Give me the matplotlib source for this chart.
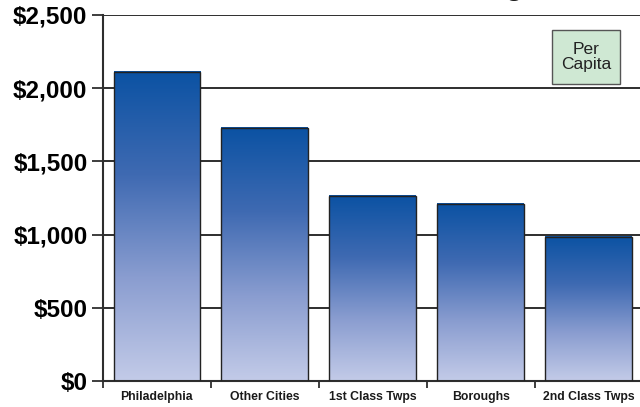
import matplotlib.pyplot as plt
import numpy as np
from matplotlib.colors import LinearSegmentedColormap
from matplotlib.patches import Rectangle

categories = ["Philadelphia", "Other Cities", "1st Class Twps", "Boroughs", "2nd Class Twps"]
per_capita = [2111, 1726, 1265, 1212, 987]
y_ticks = [0, 500, 1000, 1500, 2000, 2500]
y_tick_labels = ["$0", "$500", "$1,000", "$1,500", "$2,000", "$2,500"]

plt.rcParams['font.family'] = ['Liberation Sans', 'DejaVu Sans']

fig = plt.figure(figsize=(6.4, 4.07), dpi=100)
ax = fig.add_axes([0.1605, 0.0627, 0.8435, 0.9012])

# blue fade, dark at the top of each bar
fade = LinearSegmentedColormap.from_list("fade", ["#c3cbe8", "#8a9dd0", "#3f6ab2", "#0b52a3"])
grad = np.linspace(0, 1, 256).reshape(-1, 1)

bar_w = 0.8
bars = ax.bar(range(len(categories)), per_capita, width=bar_w, color="none",
              edgecolor="#222222", linewidth=1.0, zorder=3)
for b, v in zip(bars, per_capita):
    x0 = b.get_x()
    ax.imshow(grad, cmap=fade, origin="lower", aspect="auto",
              extent=(x0, x0 + bar_w, 0, v), zorder=2)

ax.set_xlim(-0.5, len(categories) - 0.5)
ax.set_ylim(0, 2500)

ax.set_yticks(y_ticks)
ax.set_yticklabels(y_tick_labels, fontsize=17.5, fontweight="bold")
ax.yaxis.grid(True, color="#2e2e2e", linewidth=1.4, zorder=1)
ax.set_axisbelow(True)
ax.tick_params(axis="y", length=8, width=1.3, color="#2e2e2e", pad=3)

# category ticks sit between bars, labels centred under bars
ax.set_xticks(np.arange(len(categories) + 1) - 0.5)
ax.set_xticklabels([])
ax.set_xticks(range(len(categories)), minor=True)
ax.set_xticklabels(categories, minor=True, fontsize=8.8, fontweight="bold", color="#1a1a1a")
ax.tick_params(axis="x", which="major", length=5, width=1.3, color="#2e2e2e")
ax.tick_params(axis="x", which="minor", length=0, pad=7)

for s in ["top", "right"]:
    ax.spines[s].set_visible(False)
for s in ["left", "bottom"]:
    ax.spines[s].set_color("#2e2e2e")
    ax.spines[s].set_linewidth(1.5)

# "Per Capita" tag in the upper right
ax.add_patch(Rectangle((0.833, 0.811), 0.126, 0.147, transform=ax.transAxes,
                       facecolor="#cfe8d3", edgecolor="#555555", linewidth=1, zorder=5))
ax.text(0.896, 0.8845, "Per\nCapita", transform=ax.transAxes, ha="center", va="center",
        fontsize=12.5, linespacing=1.0, color="#222222", zorder=6)

# chart title runs off the top of the canvas
fig.text(0.818, 1.0145, "Total Local Funding", ha="right", va="baseline",
         fontsize=22, fontweight="bold", color="#1a1a1a")

fig.savefig("out.png", dpi=100)
